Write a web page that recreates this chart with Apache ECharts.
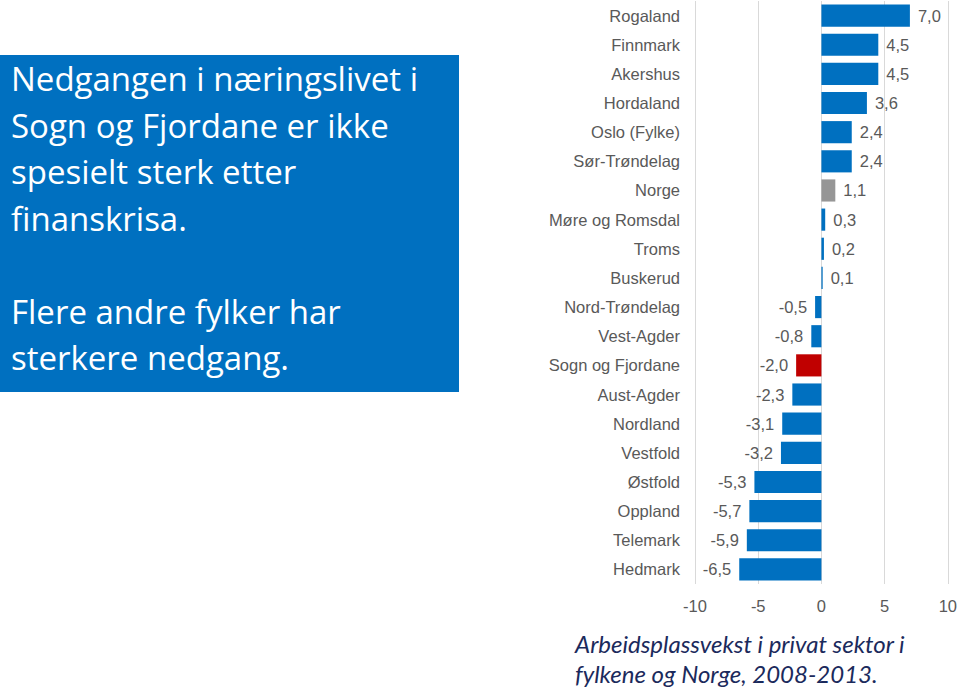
<!DOCTYPE html>
<html>
<head>
<meta charset="utf-8">
<script src="https://cdn.jsdelivr.net/npm/echarts@6/dist/echarts.min.js"></script>
<style>
html,body{margin:0;padding:0;background:#fff;}
#chart{width:960px;height:688px;}
</style>
</head>
<body>
<div id="chart"></div>
<script>
const categories = ["Rogaland","Finnmark","Akershus","Hordaland","Oslo (Fylke)","Sør-Trøndelag","Norge","Møre og Romsdal","Troms","Buskerud","Nord-Trøndelag","Vest-Agder","Sogn og Fjordane","Aust-Agder","Nordland","Vestfold","Østfold","Oppland","Telemark","Hedmark"];
const values = [7.0,4.5,4.5,3.6,2.4,2.4,1.1,0.3,0.2,0.1,-0.5,-0.8,-2.0,-2.3,-3.1,-3.2,-5.3,-5.7,-5.9,-6.5];
const axisTicks = [-10,-5,0,5,10];
const boxLines = ["Nedgangen i næringslivet i","Sogn og Fjordane er ikke","spesielt sterk etter","finanskrisa.","","Flere andre fylker har","sterkere nedgang."];
const captionLines = ["Arbeidsplassvekst i privat sektor i","fylkene og Norge, 2008-2013."];

const BLUE = '#0070C0', GREY = '#969696', RED = '#C00000';
function colorFor(name){
  if (name === 'Norge') return GREY;
  if (name === 'Sogn og Fjordane') return RED;
  return BLUE;
}
const fmt = v => v.toFixed(1).replace('.', ',');
const FONT = 'Liberation Sans, Arial, sans-serif';

const chart = echarts.init(document.getElementById('chart'), null, {renderer:'svg'});
const graphics = [
  {type:'rect', left:0, top:55, shape:{width:459, height:337}, style:{fill:BLUE}, z:10}
];
boxLines.forEach((t,i)=>{
  if(!t) return;
  graphics.push({type:'text', left:11, top:62 + i*46.5, z:11,
    style:{text:t, fill:'#fff', font:'33px "Open Sans"', textVerticalAlign:'top'}});
});
captionLines.forEach((t,i)=>{
  graphics.push({type:'text', left:575, top:631 + i*30, z:11,
    style:{text:t, fill:'#1B2A5C', font:'italic 24px Lato', textVerticalAlign:'top'}});
});

chart.setOption({
  animation:false,
  grid:{left:695, right:11, top:1, bottom:104, containLabel:false},
  xAxis:{
    type:'value', min:-10, max:10, interval:5,
    axisLine:{show:false}, axisTick:{show:false},
    splitLine:{show:true, lineStyle:{color:'#D9D9D9', width:1}},
    axisLabel:{color:'#595959', fontSize:16.5, fontFamily:FONT, margin:13,
      formatter: v => axisTicks.includes(v) ? String(v) : ''}
  },
  yAxis:{
    type:'category', data:categories, inverse:true,
    axisLine:{show:false}, axisTick:{show:false},
    axisLabel:{color:'#595959', fontSize:16.5, fontFamily:FONT, margin:15}
  },
  series:[{
    type:'bar', barCategoryGap:'24%',
    data: values.map((v,i)=>({
      value:v,
      itemStyle:{color:colorFor(categories[i])},
      label:{show:true, position: v>=0 ? 'right':'left', distance:8,
        formatter: p => fmt(p.value), color:'#595959', fontSize:16.5, fontFamily:FONT}
    }))
  }],
  graphic: graphics
});
</script>
</body>
</html>
